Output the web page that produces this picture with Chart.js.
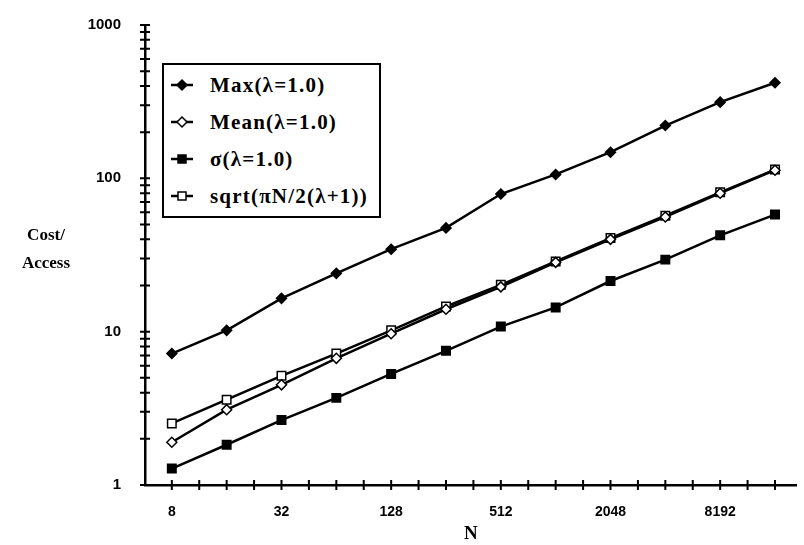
<!DOCTYPE html>
<html>
<head>
<meta charset="utf-8">
<script src="https://cdn.jsdelivr.net/npm/chart.js@4.4.1/dist/chart.umd.min.js"></script>
<style>
  html, body { margin: 0; padding: 0; background: #fff; }
  #wrap { position: relative; width: 804px; height: 545px; }
  #ytitle { position: absolute; left: 0px; top: 221px; width: 92px; text-align: center;
            font: bold 17px "Liberation Serif", serif; line-height: 28px; color: #000; }
  #legend { position: absolute; left: 162px; top: 63px; width: 219px; height: 155px;
            border: 2px solid #000; box-sizing: border-box; background: #fff; }
  .row { position: absolute; left: 0; height: 30px; display: flex; align-items: center;
         font: bold 21px "Liberation Serif", serif; letter-spacing: 1.2px; color: #000; white-space: nowrap; }
  .row svg { margin-left: 6px; margin-right: 16px; }
</style>
</head>
<body>
<div id="wrap">
  <canvas id="chart" width="804" height="545"></canvas>
  <div id="ytitle">Cost/<br>Access</div>
  <div id="legend"></div>
</div>
<script>
// N values (powers of two)
const sizes = [8, 16, 32, 64, 128, 256, 512, 1024, 2048, 4096, 8192, 16384];

// cost per access
const maxCost   = [7.2, 10.2, 16.5, 24, 34.5, 47.5, 79, 106, 148, 221, 314, 420];
const meanCost  = [1.9, 3.1, 4.5, 6.7, 9.7, 14, 19.6, 28.3, 40, 56, 80, 113];
const sigmaCost = [1.28, 1.83, 2.65, 3.7, 5.3, 7.5, 10.8, 14.4, 21.4, 29.5, 42.5, 58];
const sqrtCost  = [2.52, 3.6, 5.15, 7.2, 10.2, 14.6, 20.2, 28.7, 40.8, 57, 81, 114];

const seriesNames = ['Max(λ=1.0)', 'Mean(λ=1.0)', 'σ(λ=1.0)', 'sqrt(πN/2(λ+1))'];

// axis ticks
const xLabels = [8, 32, 128, 512, 2048, 8192];
const yLabels = [1, 10, 100, 1000];

const xTicks = [];
for (let k = 0; k <= 22; k++) xTicks.push(8 * Math.pow(2, k / 2));
const yTicks = [];
[1, 10, 100].forEach(d => { for (let m = 1; m < 10; m++) yTicks.push(d * m); });
yTicks.push(1000);

function pts(arr) {
  return sizes.map((n, i) => ({ x: n, y: arr[i] }));
}

const markers = [
  { style: 'rectRot', fill: '#000', r: 5 },
  { style: 'rectRot', fill: '#fff', r: 5 },
  { style: 'rect', fill: '#000', r: 6 },
  { style: 'rect', fill: '#fff', r: 6 }
];
const allData = [maxCost, meanCost, sigmaCost, sqrtCost];

const datasets = allData.map((arr, i) => ({
  label: seriesNames[i],
  data: pts(arr),
  borderColor: '#000',
  borderWidth: 2.5,
  pointStyle: markers[i].style,
  pointRadius: markers[i].r,
  pointBackgroundColor: markers[i].fill,
  pointBorderColor: '#000',
  pointBorderWidth: 1.5,
  tension: 0
}));

// little "+" ticks crossing both axes
const crossTicks = {
  id: 'crossTicks',
  afterDraw(chart) {
    const ctx = chart.ctx;
    const xs = chart.scales.x, ys = chart.scales.y;
    const a = chart.chartArea;
    ctx.save();
    ctx.strokeStyle = '#000';
    ctx.lineWidth = 2;
    ctx.beginPath();
    xs.ticks.forEach(t => {
      const px = xs.getPixelForValue(t.value);
      ctx.moveTo(px, a.bottom - 5); ctx.lineTo(px, a.bottom + 5);
    });
    ys.ticks.forEach(t => {
      const py = ys.getPixelForValue(t.value);
      ctx.moveTo(a.left - 5, py); ctx.lineTo(a.left + 5, py);
    });
    ctx.stroke();
    ctx.restore();
  }
};

new Chart(document.getElementById('chart'), {
  type: 'line',
  data: { datasets: datasets },
  options: {
    responsive: false,
    animation: false,
    layout: { padding: { top: 14, right: 0, left: 0, bottom: 0 } },
    plugins: { legend: { display: false }, tooltip: { enabled: false } },
    scales: {
      x: {
        type: 'logarithmic',
        min: 5.7,
        max: 21500,
        afterBuildTicks: s => { s.ticks = xTicks.map(v => ({ value: v })); },
        afterFit: s => { s.height = 60; },
        grid: { display: false },
        border: { color: '#000', width: 2.5 },
        ticks: {
          autoSkip: false,
          maxRotation: 0,
          padding: 11,
          color: '#000',
          font: { family: 'Liberation Sans', size: 14, weight: 'bold' },
          callback: v => xLabels.includes(v) ? String(v) : ''
        },
        title: {
          display: true, text: 'N', color: '#000', padding: { top: 0, bottom: 0 },
          font: { family: 'Liberation Serif', size: 19, weight: 'bold' }
        }
      },
      y: {
        type: 'logarithmic',
        min: 1,
        max: 1000,
        afterBuildTicks: s => { s.ticks = yTicks.map(v => ({ value: v })); },
        afterFit: s => { s.width = 145; },
        grid: { display: false },
        border: { color: '#000', width: 2.5 },
        ticks: {
          autoSkip: false,
          padding: 16,
          color: '#000',
          font: { family: 'Liberation Sans', size: 15, weight: 'bold' },
          callback: v => yLabels.includes(v) ? String(v) : ''
        }
      }
    }
  },
  plugins: [crossTicks]
});

// legend box inside the plot
const legend = document.getElementById('legend');
seriesNames.forEach((name, i) => {
  const m = markers[i];
  let shape;
  if (m.style === 'rectRot') {
    shape = '<polygon points="12,2 17,7 12,12 7,7" fill="' + m.fill + '" stroke="#000" stroke-width="1.5"/>';
  } else {
    shape = '<rect x="8" y="3" width="8" height="8" fill="' + m.fill + '" stroke="#000" stroke-width="1.5"/>';
  }
  const row = document.createElement('div');
  row.className = 'row';
  row.style.top = (5 + i * 37) + 'px';
  row.innerHTML = '<svg width="24" height="14"><line x1="1" y1="7" x2="23" y2="7" stroke="#000" stroke-width="2.5"/>' +
    shape + '</svg><span>' + name + '</span>';
  legend.appendChild(row);
});
</script>
</body>
</html>
